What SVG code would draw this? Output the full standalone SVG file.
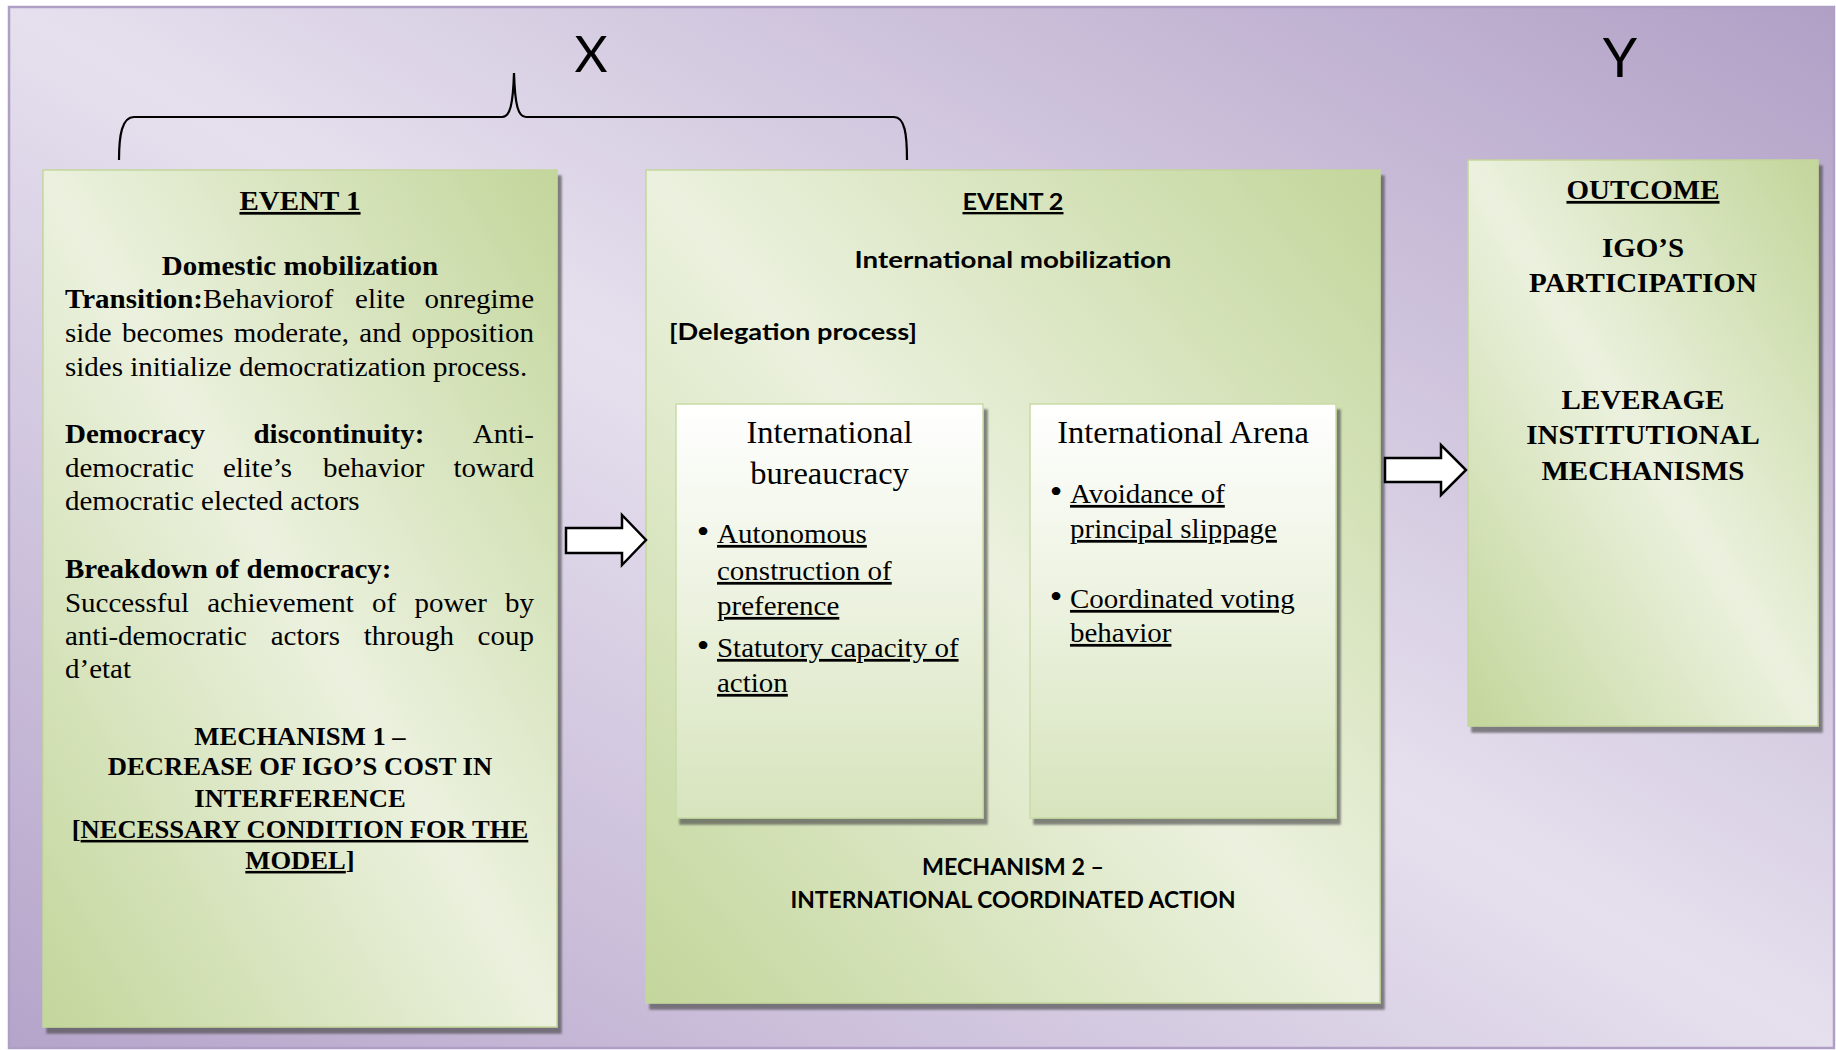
<svg xmlns="http://www.w3.org/2000/svg" width="1836" height="1050" viewBox="0 0 1836 1050">
  <style>
    .serif { font-family: "Liberation Serif", "Times New Roman", serif; fill: #000; font-size: 27.36px; }
    .head { font-size: 30.66px; }
    .mech { font-size: 25.1px; }
    .dot { font-size: 34px; }
    .b { font-weight: bold; }
    .u { text-decoration: underline; }
    .sans { font-family: Lato, "Liberation Sans", sans-serif; font-weight: bold; fill: #000; font-size: 23.5px; }
    .axis { font-family: Lato, "Liberation Sans", sans-serif; fill: #000; }
    .box { stroke: #c3d69b; stroke-width: 1.5; filter: url(#shadow); }
    .inner { fill: url(#innerFill); stroke: #c9dba7; stroke-width: 1.5; filter: url(#shadow); }
    .flow { fill: #fff; stroke: #000; stroke-width: 2.5; stroke-linejoin: miter; }
  </style>
  <defs>
    <linearGradient id="frameFill" x1="0" y1="1" x2="1" y2="0">
      <stop offset="0" stop-color="#b5a4ca"/>
      <stop offset="0.5" stop-color="#e6e0ee"/>
      <stop offset="1" stop-color="#b1a0c6"/>
    </linearGradient>
    <linearGradient id="greenFill" x1="0" y1="1" x2="1" y2="0">
      <stop offset="0" stop-color="#c3d69b"/>
      <stop offset="0.5" stop-color="#ebf1de"/>
      <stop offset="1" stop-color="#c3d69b"/>
    </linearGradient>
    <linearGradient id="innerFill" x1="0" y1="0" x2="0" y2="1">
      <stop offset="0" stop-color="#ffffff"/>
      <stop offset="1" stop-color="#d7e4bd"/>
    </linearGradient>
    <filter id="shadow" x="-5%" y="-5%" width="115%" height="115%">
      <feDropShadow dx="4" dy="6" stdDeviation="1" flood-color="#4a4a4a" flood-opacity="0.65"/>
    </filter>
  </defs>

  <!-- page and frame -->
  <rect x="0" y="0" width="1836" height="1050" fill="#ffffff"/>
  <rect id="frame" x="9" y="7" width="1825" height="1041" fill="url(#frameFill)" stroke="#b09fc5" stroke-width="2.5"/>

  <!-- axis labels and brace -->
  <g id="label-x">
    <text class="axis" x="591" y="72" font-size="51" text-anchor="middle">X</text>
  </g>
  <g id="label-y">
    <text class="axis" x="1620" y="77" font-size="55" text-anchor="middle">Y</text>
  </g>
  <g id="brace">
    <path d="M119,160 C119,135 122,117 134,117 L502,117 C510,117 513,105 514,73 C515,105 518,117 526,117 L894,117 C905,117 907,135 907,160" fill="none" stroke="#000" stroke-width="2.2"/>
  </g>

  <!-- EVENT 1 -->
  <g id="event1">
    <rect class="box" x="43" y="170" width="514" height="857" fill="url(#greenFill)"/>
    <g transform="scale(1.06 1)">
      <text class="serif b u" x="283.02" y="210" text-anchor="middle">EVENT 1</text>
      <text class="serif b" x="283.02" y="275" text-anchor="middle">Domestic mobilization</text>
      <text class="serif" y="308"><tspan x="61.32" class="b">Transition:</tspan><tspan>Behaviorof</tspan><tspan x="335.0">elite</tspan><tspan x="400.47">onregime</tspan></text>
      <text class="serif" y="342"><tspan x="61.32">side</tspan><tspan x="115.09">becomes</tspan><tspan x="220.57">moderate,</tspan><tspan x="338.96">and</tspan><tspan x="388.21">opposition</tspan></text>
      <text class="serif" x="61.32" y="376">sides initialize democratization process.</text>
      <text class="serif" y="443"><tspan x="61.32" class="b">Democracy</tspan><tspan x="239.15" class="b">discontinuity:</tspan><tspan x="446.04">Anti-</tspan></text>
      <text class="serif" y="477"><tspan x="61.32">democratic</tspan><tspan x="210.28">elite’s</tspan><tspan x="304.62">behavior</tspan><tspan x="427.83">toward</tspan></text>
      <text class="serif" x="61.32" y="510">democratic elected actors</text>
      <text class="serif b" x="61.32" y="578">Breakdown of democracy:</text>
      <text class="serif" y="612"><tspan x="61.32">Successful</tspan><tspan x="195.47">achievement</tspan><tspan x="350.94">of</tspan><tspan x="390.94">power</tspan><tspan x="476.42">by</tspan></text>
      <text class="serif" y="645"><tspan x="61.32">anti-democratic</tspan><tspan x="255.38">actors</tspan><tspan x="343.11">through</tspan><tspan x="450.57">coup</tspan></text>
      <text class="serif" x="61.32" y="678">d’etat</text>
      <g text-anchor="middle">
        <text class="serif b mech" x="283.02" y="745">MECHANISM 1 –</text>
        <text class="serif b mech" x="283.02" y="775">DECREASE OF IGO’S COST IN</text>
        <text class="serif b mech" x="283.02" y="807">INTERFERENCE</text>
        <text class="serif b mech" x="283.02" y="838">[<tspan class="u">NECESSARY CONDITION FOR THE</tspan></text>
        <text class="serif b mech" x="283.02" y="869"><tspan class="u">MODEL</tspan>]</text>
      </g>
    </g>
  </g>

  <!-- EVENT 2 -->
  <g id="event2">
    <rect class="box" x="646" y="170" width="734" height="833" fill="url(#greenFill)"/>
    <text class="sans u" x="1013" y="210" text-anchor="middle" textLength="101" lengthAdjust="spacingAndGlyphs">EVENT 2</text>
    <text class="sans" x="1013" y="268" text-anchor="middle" textLength="317" lengthAdjust="spacingAndGlyphs">International mobilization</text>
    <text class="sans" x="669" y="340" textLength="248" lengthAdjust="spacingAndGlyphs">[Delegation process]</text>
    <text class="sans" x="1013" y="875" text-anchor="middle" textLength="182" lengthAdjust="spacingAndGlyphs">MECHANISM 2 –</text>
    <text class="sans" x="1013" y="908" text-anchor="middle" textLength="445" lengthAdjust="spacingAndGlyphs">INTERNATIONAL COORDINATED ACTION</text>
  </g>

  <!-- International bureaucracy -->
  <g id="bureaucracy">
    <rect class="inner" x="676" y="404" width="307" height="414"/>
    <g transform="scale(1.06 1)">
      <text class="serif head" x="782.55" y="443" text-anchor="middle">International</text>
      <text class="serif head" x="782.55" y="484" text-anchor="middle">bureaucracy</text>
      <text class="serif dot" x="663.21" y="543" text-anchor="middle">•</text>
      <text class="serif u" x="676.42" y="543">Autonomous</text>
      <text class="serif u" x="676.42" y="580">construction of</text>
      <text class="serif u" x="676.42" y="615">preference</text>
      <text class="serif dot" x="663.21" y="657" text-anchor="middle">•</text>
      <text class="serif u" x="676.42" y="657">Statutory capacity of</text>
      <text class="serif u" x="676.42" y="692">action</text>
    </g>
  </g>

  <!-- International Arena -->
  <g id="arena">
    <rect class="inner" x="1030" y="404" width="306" height="414"/>
    <g transform="scale(1.06 1)">
      <text class="serif head" x="1116.04" y="443" text-anchor="middle">International Arena</text>
      <text class="serif dot" x="996.23" y="503" text-anchor="middle">•</text>
      <text class="serif u" x="1009.43" y="503">Avoidance of</text>
      <text class="serif u" x="1009.43" y="538">principal slippage</text>
      <text class="serif dot" x="996.23" y="608" text-anchor="middle">•</text>
      <text class="serif u" x="1009.43" y="608">Coordinated voting</text>
      <text class="serif u" x="1009.43" y="642">behavior</text>
    </g>
  </g>

  <!-- OUTCOME -->
  <g id="outcome">
    <rect class="box" x="1468" y="160" width="350" height="566" fill="url(#greenFill)"/>
    <g transform="scale(1.06 1)" text-anchor="middle">
      <text class="serif b u" x="1550.0" y="199">OUTCOME</text>
      <text class="serif b" x="1550.0" y="257">IGO’S</text>
      <text class="serif b" x="1550.0" y="292">PARTICIPATION</text>
      <text class="serif b" x="1550.0" y="409">LEVERAGE</text>
      <text class="serif b" x="1550.0" y="444">INSTITUTIONAL</text>
      <text class="serif b" x="1550.0" y="480">MECHANISMS</text>
    </g>
  </g>

  <!-- connectors -->
  <g id="connectors">
    <polygon class="flow" points="566,528 622,528 622,515 646,540 622,565 622,553 566,553"/>
    <polygon class="flow" points="1385,458 1441,458 1441,445 1466,470 1441,495 1441,482 1385,482"/>
  </g>
</svg>
